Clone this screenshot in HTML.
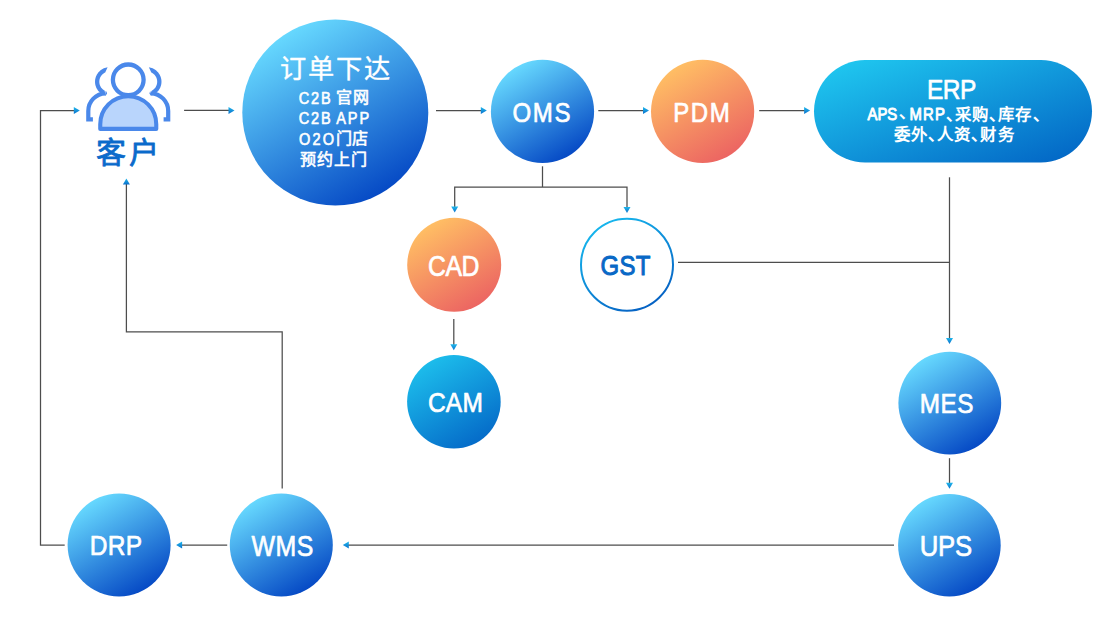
<!DOCTYPE html>
<html lang="zh-CN"><head><meta charset="utf-8"><style>
html,body{margin:0;padding:0;background:#fff;width:1099px;height:626px;overflow:hidden;}
body{position:relative;font-family:"Liberation Sans",sans-serif;}
text{font-family:"Liberation Sans",sans-serif;white-space:pre}
</style></head><body>
<svg width="1099" height="626" viewBox="0 0 1099 626" style="position:absolute;left:0;top:0">
<defs>
<linearGradient id="gb" x1="0.2425" y1="0.0715" x2="0.7575" y2="0.9285"><stop offset="0" stop-color="#66d8fe"/><stop offset="1" stop-color="#064ac5"/></linearGradient>
<linearGradient id="go" x1="0.2425" y1="0.0715" x2="0.7575" y2="0.9285"><stop offset="0" stop-color="#ffbe64"/><stop offset="1" stop-color="#ec6562"/></linearGradient>
<linearGradient id="gc" x1="0.2425" y1="0.0715" x2="0.7575" y2="0.9285"><stop offset="0" stop-color="#1cbceb"/><stop offset="1" stop-color="#056cc9"/></linearGradient>
<linearGradient id="gc2" x1="0" y1="0" x2="1" y2="1"><stop offset="0" stop-color="#21cdf2"/><stop offset="1" stop-color="#0161c3"/></linearGradient>
<linearGradient id="gs" x1="0.2425" y1="0.0715" x2="0.7575" y2="0.9285"><stop offset="0" stop-color="#16b4ec"/><stop offset="1" stop-color="#0663c4"/></linearGradient>
<linearGradient id="ga" x1="0" y1="0" x2="0" y2="1"><stop offset="0" stop-color="#20b8ec"/><stop offset="1" stop-color="#0a70cc"/></linearGradient>
</defs>
<circle cx="335.3" cy="112.5" r="93.0" fill="url(#gb)"/><circle cx="542.5" cy="111.4" r="51.6" fill="url(#gb)"/><circle cx="702.6" cy="111.4" r="51.6" fill="url(#go)"/><rect x="814" y="60.1" width="278" height="102.3" rx="51.15" ry="51.15" fill="url(#gc2)"/><circle cx="454.2" cy="264.8" r="47.0" fill="url(#go)"/><circle cx="627" cy="264.7" r="46" fill="#fff" stroke="url(#gs)" stroke-width="2"/><circle cx="453.9" cy="401.8" r="46.8" fill="url(#gc)"/><circle cx="949.8" cy="403.1" r="51.4" fill="url(#gb)"/><circle cx="949.4" cy="545.2" r="51.3" fill="url(#gb)"/><circle cx="281.3" cy="544.9" r="51.5" fill="url(#gb)"/><circle cx="119.1" cy="544.9" r="51.5" fill="url(#gb)"/>
<g fill="none" stroke="#4d4d4d" stroke-width="1.25"><path d="M64.7 545 L40.5 545 L40.5 110.5 L75 110.5"/><path d="M184.1 110.4 L230 110.4"/><path d="M436 110.5 L482 110.5"/><path d="M598.3 110.5 L644 110.5"/><path d="M759.2 110.5 L805 110.5"/><path d="M542.5 166.3 L542.5 187"/><path d="M454.7 208 L454.7 187 L627 187 L627 208"/><path d="M453.8 319.1 L453.8 345"/><path d="M949.5 177.3 L949.5 339"/><path d="M678 262.4 L949.5 262.4"/><path d="M949.5 458.2 L949.5 484"/><path d="M894 545 L348 545"/><path d="M227.2 545 L181 545"/><path d="M282.2 488.5 L282.2 331.8 L126.4 331.8 L126.4 183.5"/></g>
<g fill="url(#ga)"><path d="M79.80 110.50 L73.80 107.00 L73.80 114.00Z"/><path d="M234.50 110.40 L228.50 106.90 L228.50 113.90Z"/><path d="M486.80 110.50 L480.80 107.00 L480.80 114.00Z"/><path d="M649.00 110.50 L643.00 107.00 L643.00 114.00Z"/><path d="M810.10 110.50 L804.10 107.00 L804.10 114.00Z"/><path d="M454.70 212.60 L451.20 206.60 L458.20 206.60Z"/><path d="M627.00 212.90 L623.50 206.90 L630.50 206.90Z"/><path d="M453.80 350.30 L450.30 344.30 L457.30 344.30Z"/><path d="M949.50 343.90 L946.00 337.90 L953.00 337.90Z"/><path d="M949.50 488.80 L946.00 482.80 L953.00 482.80Z"/><path d="M342.80 545.00 L348.80 541.50 L348.80 548.50Z"/><path d="M176.10 545.00 L182.10 541.50 L182.10 548.50Z"/><path d="M126.40 178.40 L122.90 184.40 L129.90 184.40Z"/></g>
<path d="M100.25 128.9 L100.25 124.2 A28 28 0 0 1 156.25 124.2 L156.25 128.9 Z" fill="#b9d5fc" stroke="#4a88ea" stroke-width="4.1" stroke-linejoin="round"/><circle cx="128.25" cy="79.85" r="15.35" fill="#fff" stroke="#4a88ea" stroke-width="4.3"/><path d="M107.61 67.34 L106.65 67.50 L105.70 67.73 L104.77 68.01 L103.86 68.36 L102.98 68.77 L102.13 69.24 L101.31 69.76 L100.52 70.34 L99.78 70.97 L99.08 71.65 L98.43 72.37 L97.83 73.13 L97.28 73.94 L96.78 74.78 L96.35 75.65 L95.97 76.54 L95.65 77.46 L95.40 78.40 L95.21 79.36 L95.09 80.32 L95.03 81.30 L95.03 82.27 L95.10 83.24 L95.24 84.20 L95.44 85.16 L95.70 86.09 L96.03 87.01 L96.42 87.90 L96.86 88.77 L97.37 89.60 L97.92 90.40 L98.54 91.16 L99.20 91.87 L99.90 92.54 L100.65 93.16 L101.44 93.73 L102.27 94.25 L103.13 94.70 L104.02 95.10 L104.93 95.44 L106.29 91.36 L105.72 91.15 L105.16 90.91 L104.62 90.63 L104.10 90.33 L103.59 89.99 L103.11 89.62 L102.65 89.23 L102.21 88.81 L101.80 88.36 L101.42 87.89 L101.06 87.40 L100.74 86.89 L100.45 86.35 L100.18 85.81 L99.96 85.24 L99.76 84.67 L99.60 84.08 L99.48 83.49 L99.39 82.89 L99.34 82.29 L99.32 81.68 L99.34 81.07 L99.39 80.47 L99.49 79.87 L99.61 79.28 L99.77 78.69 L99.97 78.12 L100.20 77.56 L100.46 77.01 L100.76 76.48 L101.09 75.97 L101.44 75.48 L101.83 75.01 L102.24 74.56 L102.68 74.14 L103.14 73.75 L103.63 73.39 L104.13 73.05 L104.66 72.75 L105.20 72.47ZM104.5 91.1 L106.4 91.2 L107.1 93.5 L105.8 95.6 L104.5 95.6Z" fill="#4a88ea"/><path d="M105.6 93.3 A17.65 17.65 0 0 0 88.3 111 L88.3 119.35 L92.9 119.35" fill="none" stroke="#4a88ea" stroke-width="4.2"/><path d="M107.61 67.34 L106.65 67.50 L105.70 67.73 L104.77 68.01 L103.86 68.36 L102.98 68.77 L102.13 69.24 L101.31 69.76 L100.52 70.34 L99.78 70.97 L99.08 71.65 L98.43 72.37 L97.83 73.13 L97.28 73.94 L96.78 74.78 L96.35 75.65 L95.97 76.54 L95.65 77.46 L95.40 78.40 L95.21 79.36 L95.09 80.32 L95.03 81.30 L95.03 82.27 L95.10 83.24 L95.24 84.20 L95.44 85.16 L95.70 86.09 L96.03 87.01 L96.42 87.90 L96.86 88.77 L97.37 89.60 L97.92 90.40 L98.54 91.16 L99.20 91.87 L99.90 92.54 L100.65 93.16 L101.44 93.73 L102.27 94.25 L103.13 94.70 L104.02 95.10 L104.93 95.44 L106.29 91.36 L105.72 91.15 L105.16 90.91 L104.62 90.63 L104.10 90.33 L103.59 89.99 L103.11 89.62 L102.65 89.23 L102.21 88.81 L101.80 88.36 L101.42 87.89 L101.06 87.40 L100.74 86.89 L100.45 86.35 L100.18 85.81 L99.96 85.24 L99.76 84.67 L99.60 84.08 L99.48 83.49 L99.39 82.89 L99.34 82.29 L99.32 81.68 L99.34 81.07 L99.39 80.47 L99.49 79.87 L99.61 79.28 L99.77 78.69 L99.97 78.12 L100.20 77.56 L100.46 77.01 L100.76 76.48 L101.09 75.97 L101.44 75.48 L101.83 75.01 L102.24 74.56 L102.68 74.14 L103.14 73.75 L103.63 73.39 L104.13 73.05 L104.66 72.75 L105.20 72.47ZM104.5 91.1 L106.4 91.2 L107.1 93.5 L105.8 95.6 L104.5 95.6Z" fill="#4a88ea" transform="translate(256.5 0) scale(-1 1)"/><path d="M105.6 93.3 A17.65 17.65 0 0 0 88.3 111 L88.3 119.35 L92.9 119.35" fill="none" stroke="#4a88ea" stroke-width="4.2" transform="translate(256.5 0) scale(-1 1)"/>
<text transform="translate(512.467 121.717) scale(0.8600 1)" font-size="27.967" font-weight="400" fill="#ffffff" stroke="#ffffff" stroke-width="0.7" stroke-linejoin="round" letter-spacing="1.896">OMS</text><text transform="translate(673.251 121.717) scale(0.8600 1)" font-size="27.967" font-weight="400" fill="#ffffff" stroke="#ffffff" stroke-width="0.7" stroke-linejoin="round" letter-spacing="1.781">PDM</text><text transform="translate(427.931 275.696) scale(0.8600 1)" font-size="28.814" font-weight="400" fill="#ffffff" stroke="#ffffff" stroke-width="0.7" stroke-linejoin="round" letter-spacing="-0.512">CAD</text><text transform="translate(600.609 274.573) scale(0.8600 1)" font-size="27.889" font-weight="400" fill="#0868c6" stroke="#0868c6" stroke-width="1.0" stroke-linejoin="round" letter-spacing="0.263">GST</text><text transform="translate(427.909 411.580) scale(0.8600 1)" font-size="28.485" font-weight="400" fill="#ffffff" stroke="#ffffff" stroke-width="0.7" stroke-linejoin="round" letter-spacing="0.334">CAM</text><text transform="translate(919.764 412.649) scale(0.8600 1)" font-size="28.243" font-weight="400" fill="#ffffff" stroke="#ffffff" stroke-width="0.7" stroke-linejoin="round" letter-spacing="0.621">MES</text><text transform="translate(919.725 555.714) scale(0.8600 1)" font-size="29.900" font-weight="400" fill="#ffffff" stroke="#ffffff" stroke-width="0.7" stroke-linejoin="round" letter-spacing="-0.278">UPS</text><text transform="translate(89.817 554.718) scale(0.8600 1)" font-size="28.506" font-weight="400" fill="#ffffff" stroke="#ffffff" stroke-width="0.7" stroke-linejoin="round" letter-spacing="0.381">DRP</text><text transform="translate(251.606 555.527) scale(0.8600 1)" font-size="28.956" font-weight="400" fill="#ffffff" stroke="#ffffff" stroke-width="0.7" stroke-linejoin="round" letter-spacing="0.485">WMS</text><text transform="translate(926.987 98.510) scale(0.8600 1)" font-size="28.496" font-weight="400" fill="#ffffff" stroke="#ffffff" stroke-width="0.7" stroke-linejoin="round" letter-spacing="-0.548">ERP</text><text transform="translate(279.637 77.689) scale(1.0000 1)" font-size="26.200" font-weight="400" fill="#ffffff" stroke="#ffffff" stroke-width="0.4" stroke-linejoin="round" letter-spacing="1.982">订单下达</text><text transform="translate(298.859 103.600) scale(0.8800 1)" font-size="16.500" font-weight="400" fill="#ffffff" stroke="#ffffff" stroke-width="0.65" stroke-linejoin="round" letter-spacing="1.981">C2B</text><text transform="translate(335.618 102.634) scale(1.0000 1)" font-size="16.000" font-weight="400" fill="#ffffff" stroke="#ffffff" stroke-width="0.6" stroke-linejoin="round" letter-spacing="1.562">官网</text><text transform="translate(298.859 123.550) scale(0.8800 1)" font-size="16.500" font-weight="400" fill="#ffffff" stroke="#ffffff" stroke-width="0.65" stroke-linejoin="round" letter-spacing="1.981">C2B</text><text transform="translate(336.339 123.725) scale(0.8800 1)" font-size="16.500" font-weight="400" fill="#ffffff" stroke="#ffffff" stroke-width="0.65" stroke-linejoin="round" letter-spacing="2.107">APP</text><text transform="translate(299.072 144.577) scale(0.8800 1)" font-size="16.500" font-weight="400" fill="#ffffff" stroke="#ffffff" stroke-width="0.65" stroke-linejoin="round" letter-spacing="2.451">O2O</text><text transform="translate(335.714 143.734) scale(1.0000 1)" font-size="16.000" font-weight="400" fill="#ffffff" stroke="#ffffff" stroke-width="0.6" stroke-linejoin="round" letter-spacing="-0.066">门店</text><text transform="translate(299.718 164.725) scale(1.0000 1)" font-size="16.000" font-weight="400" fill="#ffffff" stroke="#ffffff" stroke-width="0.6" stroke-linejoin="round" letter-spacing="1.061">预约上门</text><text transform="translate(867.574 119.678) scale(0.9000 1)" font-size="16.500" font-weight="400" fill="#ffffff" stroke="#ffffff" stroke-width="0.9" stroke-linejoin="round" letter-spacing="-0.006">APS</text><text transform="translate(898.623 117.704) scale(1.0000 1)" font-size="16.500" font-weight="700" fill="#ffffff">、</text><text transform="translate(909.542 119.590) scale(0.9000 1)" font-size="16.500" font-weight="400" fill="#ffffff" stroke="#ffffff" stroke-width="0.9" stroke-linejoin="round" letter-spacing="1.310">MRP</text><text transform="translate(946.268 119.640) scale(1.0000 1)" font-size="16.400" font-weight="700" fill="#ffffff" letter-spacing="1.107"><tspan letter-spacing="-7.093">、</tspan>采购<tspan letter-spacing="-7.093">、</tspan>库存<tspan letter-spacing="-7.093">、</tspan></text><text transform="translate(893.747 139.620) scale(1.0000 1)" font-size="16.400" font-weight="700" fill="#ffffff" letter-spacing="1.174">委外<tspan letter-spacing="-7.026">、</tspan>人资<tspan letter-spacing="-7.026">、</tspan>财务</text><text transform="translate(96.020 162.565) scale(1.0000 1)" font-size="30.000" font-weight="400" fill="#0a6acb" stroke="#0a6acb" stroke-width="0.8" stroke-linejoin="round" letter-spacing="2.991">客户</text></svg>
</body></html>
